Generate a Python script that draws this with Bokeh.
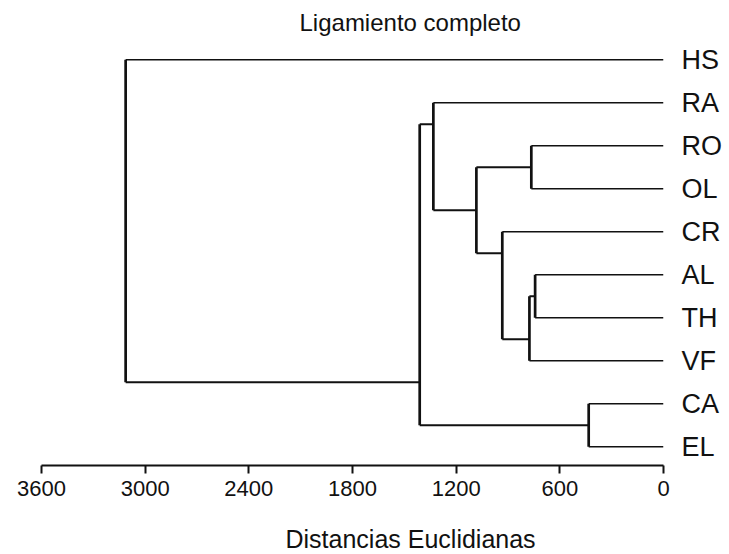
from bokeh.plotting import figure
from bokeh.models import Range1d, LinearAxis, FixedTicker, Title
from bokeh.embed import file_html
from bokeh.resources import INLINE

# ---- data ----
leaves = ["HS", "RA", "RO", "OL", "CR", "AL", "TH", "VF", "CA", "EL"]
# merges (complete linkage), in order of distance
merge_names = ["c1", "c2", "c3", "c4", "c5", "c6", "c7", "c8", "c9"]
merge_left = ["CA", "AL", "RO", "c2", "CR", "c3", "RA", "c7", "HS"]
merge_right = ["EL", "TH", "OL", "VF", "c4", "c5", "c6", "c1", "c8"]
merge_dist = [433, 743, 765, 776, 933, 1083, 1332, 1411, 3113]
x_ticks = [3600, 3000, 2400, 1800, 1200, 600, 0]
title_text = "Ligamiento completo"
xlabel_text = "Distancias Euclidianas"

# ---- layout of the tree ----
row = {n: i for i, n in enumerate(leaves)}
members = {n: [row[n]] for n in leaves}
height = {n: 0.0 for n in leaves}
attach = {n: float(row[n]) for n in leaves}
for m, l, r, d in zip(merge_names, merge_left, merge_right, merge_dist):
    members[m] = members[l] + members[r]
    height[m] = float(d)
    attach[m] = max(members[l]) + 0.5

hx0, hx1, hy = [], [], []   # horizontal segments of clusters
lx0, lx1, ly = [], [], []   # leaf segments
vx, vy0, vy1 = [], [], []   # vertical segments
for m, l, r, d in zip(merge_names, merge_left, merge_right, merge_dist):
    for c in (l, r):
        if c in row:
            lx0.append(height[c]); lx1.append(float(d)); ly.append(attach[c])
        else:
            hx0.append(height[c]); hx1.append(float(d)); hy.append(attach[c])
    vx.append(float(d)); vy0.append(attach[l]); vy1.append(attach[r])

FONT = "Liberation Sans"
TXT = "#111111"

p = figure(width=729, height=554, output_backend="svg", toolbar_location=None,
           x_range=Range1d(3600, 0), y_range=Range1d(9.436, -0.4246),
           min_border_left=41, min_border_right=66, min_border_top=40,
           min_border_bottom=89, tools="")
p.outline_line_color = None
p.xgrid.visible = False
p.ygrid.visible = False
p.yaxis.visible = False
p.background_fill_color = "white"
p.border_fill_color = "white"

p.title.text = title_text
p.title.align = "left"
p.title.offset = 258
p.title.text_font = FONT
p.title.text_font_size = "24px"
p.title.text_font_style = "normal"
p.title.text_color = TXT
p.title.standoff = 12

col = "#111111"
p.segment(x0=lx0, y0=ly, x1=lx1, y1=ly, line_color=col, line_width=1.7)
p.segment(x0=hx0, y0=hy, x1=hx1, y1=hy, line_color=col, line_width=2.1)
p.segment(x0=vx, y0=vy0, x1=vx, y1=vy1, line_color=col, line_width=2.7)

xa = p.xaxis[0]
xa.ticker = FixedTicker(ticks=x_ticks)
xa.minor_tick_line_color = None
xa.major_tick_in = 0
xa.major_tick_out = 8
xa.axis_line_width = 2
xa.major_tick_line_width = 2
xa.axis_line_color = col
xa.major_tick_line_color = col
xa.major_label_text_font = FONT
xa.major_label_text_font_size = "22px"
xa.major_label_text_color = TXT
xa.major_label_standoff = 7
xa.axis_label = "\u00a0"
xa.axis_label_text_font_size = "10px"
xa.axis_label_standoff = 8

p.add_layout(Title(text=xlabel_text, align="left", offset=244,
                   text_font=FONT, text_font_size="25px",
                   text_font_style="normal", text_color=TXT,
                   standoff=4), "below")

ra = LinearAxis(ticker=FixedTicker(ticks=list(range(len(leaves)))),
                major_label_overrides={i: n for i, n in enumerate(leaves)})
ra.axis_line_color = None
ra.major_tick_line_color = None
ra.minor_tick_line_color = None
ra.major_label_standoff = 12
ra.major_label_text_font = FONT
ra.major_label_text_font_size = "27px"
ra.major_label_text_color = TXT
p.add_layout(ra, "right")

open("out.html", "w").write(file_html(p, INLINE))
